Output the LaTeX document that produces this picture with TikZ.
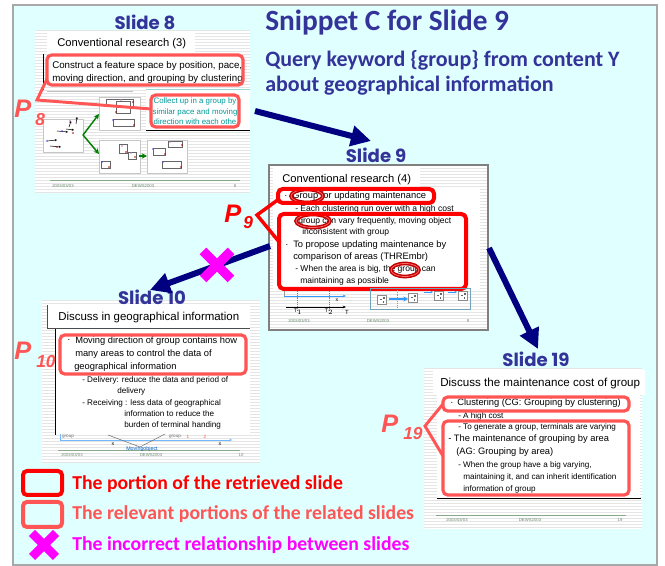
\documentclass[tikz,border=0pt]{standalone}
\usepackage{fontspec}
\setmainfont{Liberation Sans}
\newfontfamily\headfont{Carlito}
\newfontfamily\slidelabelfont{Poppins}
\usetikzlibrary{arrows.meta,calc}

\definecolor{panel}{HTML}{E0FFFF}
\definecolor{panelrule}{HTML}{A8A8A8}
\definecolor{navy}{HTML}{000080}
\definecolor{slateblue}{HTML}{333399}
\definecolor{hitred}{HTML}{FF0000}
\definecolor{relred}{HTML}{FF5555}
\definecolor{wrong}{HTML}{FF00FF}
\definecolor{tealtxt}{HTML}{009999}
\definecolor{footgreen}{HTML}{88AA88}
\definecolor{ringred}{HTML}{C00000}
\definecolor{flowblue}{HTML}{3399FF}

\newcommand\fsz[1]{\fontsize{#1}{#1}\selectfont}

% white slide thumbnail with fine horizontal ruling
\newcommand\linedpaper[4]{%
  \fill[white] (#1,#2) rectangle (#3,#4);
  \pgfmathtruncatemacro\nstripes{(#4-#2)/3}%
  \foreach \k in {0,...,\nstripes}{\draw[stripe] (#1,{#2+3*\k}) -- (#3,{#2+3*\k});}%
}

\tikzset{
  stripe/.style={draw=black!10, line width=0.6pt},
  txt/.style={inner sep=0pt, anchor=base west, text=black},
  hitbox/.style={draw=hitred, line width=3pt, rounded corners=3.5pt},
  relbox/.style={draw=relred, line width=2.4pt, rounded corners=3.5pt},
  hitlink/.style={draw=hitred, line width=2.6pt, line join=miter},
  rellink/.style={draw=relred, line width=2.2pt, line join=miter},
  ring/.style={draw=ringred, line width=1.1pt, double=hitred!60, double distance=0.6pt},
  link/.style={draw=navy, line width=4.5pt, -{Triangle[length=15pt,width=15pt]}},
  cross/.style={draw=wrong, line width=7pt},
  slidelabel/.style={font=\slidelabelfont\bfseries\fsz{13.6}, text=slateblue, inner sep=0pt},
  plabel/.style={font=\bfseries\itshape\fsz{19}, inner sep=0pt, anchor=base west},
  psub/.style={font=\bfseries\itshape\fsz{13}, inner sep=0pt, anchor=base west},
  foot/.style={font=\fsz{3.2}, text=footgreen!80!black, inner sep=0pt},
  minibox/.style={draw=black!22, fill=white, line width=0.6pt},
  cell/.style={draw=black!60, line width=0.45pt},
  growth/.style={draw=green!50!black, line width=1.1pt, -{Stealth[length=4pt,width=4pt]}},
  legend/.style={font=\headfont\bfseries\fsz{14.8}, inner sep=0pt, anchor=west},
}

\begin{document}
\begin{tikzpicture}[x=0.75pt,y=-0.75pt]
\useasboundingbox (0,0) rectangle (665,566);
\fill[white] (0,0) rectangle (665,566);
\draw[panelrule, line width=1.5pt, fill=panel] (13,5) rectangle (657,565);

% ---------------- header ----------------
\node[anchor=base west, inner sep=0pt, font=\headfont\bfseries\fsz{22}, text=slateblue] (head) at (265,31) {Snippet C for Slide 9};
\node[anchor=base west, inner sep=0pt, font=\headfont\bfseries\fsz{16.5}, text=slateblue] (query1) at (265,67) {Query keyword \{group\} from content Y};
\node[anchor=base west, inner sep=0pt, font=\headfont\bfseries\fsz{16.5}, text=slateblue] (query2) at (265,92) {about geographical information};

% ---------------- slide 8 ----------------
\linedpaper{35}{30}{250}{193}
\fill[white] (47,31) rectangle (195,54);
\node[txt, font=\fsz{8.4}] (s8title) at (57,47) {Conventional research (3)};
\draw[black, line width=0.7pt] (43,54) -- (43,90);
\draw[black!25, line width=0.6pt] (47,91) -- (133,91);
\fill[white] (47,55) rectangle (243,85);
\fill[white] (146,89) rectangle (250,130);
\draw[tealtxt!40, line width=0.6pt] (146,89) -- (250,89);
\draw[black, line width=0.7pt] (146,130) -- (250,130);
\node[txt, font=\fsz{7.3}] (s8l1) at (52,69) {Construct a feature space by position, pace,};
\node[txt, font=\fsz{7.3}] (s8l2) at (52,82) {moving direction, and grouping by clustering};
\draw[relbox] (47,55) rectangle (243,85);
\node[inner sep=0pt, font=\fsz{5.9}, text=tealtxt, anchor=base] (s8t1) at (195,104) {Collect up in a group by};
\node[inner sep=0pt, font=\fsz{5.9}, text=tealtxt, anchor=base] (s8t2) at (195,114.5) {similar pace and moving};
\node[inner sep=0pt, font=\fsz{5.9}, text=tealtxt, anchor=base] (s8t3) at (195,125) {direction with each othe};
\draw[relbox] (151,95) rectangle (239,127);
% clustering sketch
\draw[minibox] (43,119) rectangle (83,152);
\draw[minibox] (99,97) rectangle (140,130);
\draw[minibox] (99,140) rectangle (140,173);
\draw[minibox] (147,140) rectangle (187,173);
\foreach \a/\b in {{(47,141)/(57,140)},{(50,146)/(61,147)},{(57,131)/(68,132)},{(66,129)/(74,130)},{(76,124)/(77,117)},{(69,127)/(71,121)}}
  \draw[line width=0.4pt, -{Stealth[length=1.6pt,width=1.6pt]}] \a -- \b;
\fill[blue!70] (47,141) circle (0.9);
\fill[red!70!black] (57,147) circle (0.9);
\fill[red!70!black] (73,133) circle (0.9);
\fill[violet!60] (70,121) circle (0.9);
\fill[blue!70] (62,131) circle (0.9);
\draw[cell] (106,99) rectangle (133,106);
\draw[cell] (116,101) rectangle (130,113);
\draw[cell] (113,119) rectangle (134,126);
\draw[cell] (119,144) rectangle (127,153);
\draw[cell] (128,152) rectangle (136,159);
\draw[cell] (101,161) rectangle (110,168);
\draw[cell] (168,141) rectangle (182,147);
\draw[cell] (153,148) rectangle (165,155);
\draw[cell] (162,161) rectangle (181,168);
\foreach \p in {(133,102),(116,112),(134,125),(126,152),(135,157),(109,167),(182,145),(165,154),(181,167)}
  \fill[red!70!black] \p circle (0.9);
\foreach \p in {(113,120),(102,162),(153,149),(163,162)}
  \fill[blue!70] \p circle (0.9);
\foreach \p in {(121,100),(122,146),(131,153),(170,142)}
  \fill[violet!50] \p circle (0.8);
\coordinate (g0) at (83,135);
\coordinate (g1) at (99,114);
\coordinate (g2) at (99,154);
\coordinate (g3) at (139,156);
\coordinate (g4) at (147,156);
\draw[growth] (g0) -- (g1);
\draw[growth] (g0) -- (g2);
\draw[growth] (g3) -- (g4);
\draw[footgreen, line width=0.6pt] (50,180) -- (240,180);
\node[foot] (s8f1) at (63,186) {2003/03/03};
\node[foot] (s8f2) at (143,186) {DEWS2003};
\node[foot] (s8f3) at (235,186) {8};
\node[slidelabel] (lab8) at (145,22) {Slide 8};

% P8 pointer
\node[plabel, text=relred] (p8) at (14,118) {P};
\node[psub, text=relred] (p8s) at (35,126) {8};
\coordinate (p8v) at (37,100);
\coordinate (p8a) at (47,79);
\coordinate (p8b) at (151,109);
\draw[rellink] (p8a) -- (p8v) -- (p8b);

% ---------------- slide 9 ----------------
\linedpaper{269}{165}{488}{330}
\fill[white] (273,168) rectangle (420,188);
\node[txt, font=\fsz{8.4}] (s9title) at (282,183) {Conventional research (4)};
\fill[white] (273,188) rectangle (480,290);
\node[txt, font=\fsz{7}] (s9b1) at (284,198.5) {·};
\node[txt, font=\fsz{7}] (s9l1) at (292,198.5) {Group for updating maintenance};
\node[txt, font=\fsz{6.4}] (s9l2) at (295,211.5) {- Each clustering run over with a high cost};
\node[txt, font=\fsz{6.4}] (s9l3) at (298,223.5) {group can vary frequently, moving object};
\node[txt, font=\fsz{6.4}] (s9l4) at (302,234.5) {inconsistent with group};
\node[txt, font=\fsz{7}] (s9b2) at (285,247.5) {·};
\node[txt, font=\fsz{7}] (s9l5) at (293,247.5) {To propose updating maintenance by};
\node[txt, font=\fsz{7}] (s9l6) at (293,259.5) {comparison of areas (THREmbr)};
\node[txt, font=\fsz{6.4}] (s9l7) at (295,271.5) {- When the area is big, the group can};
\node[txt, font=\fsz{6.4}] (s9l8) at (300,284) {maintaining as possible};
\draw[ring] (307,196) ellipse (16 and 6.5);
\draw[ring] (313,221) ellipse (17 and 6.5);
\draw[ring] (405,270) ellipse (14 and 6.5);
\draw[hitbox] (278,189) rectangle (434,203);
\draw[hitbox] (279,214) rectangle (466,289);
% time axis sketch
\draw[densely dotted, black!50, line width=0.4pt] (297,291) -- (297,310);
\draw[densely dotted, black!50, line width=0.4pt] (329,291) -- (329,310);
\draw[black!40, line width=0.4pt] (284,291) -- (284,297);
\draw[flowblue, line width=0.5pt, -{Stealth[length=2.5pt,width=2pt]}] (284,296) -- (346,296);
\node[font=\fsz{4}, inner sep=0pt] (s9x) at (337,300) {x};
\draw[black, line width=0.5pt, -{Stealth[length=2.5pt,width=2pt]}] (286,307) -- (346,307);
\node[font=\fsz{4.5}, inner sep=0pt] (s9T) at (347,312) {T};
\node[font=\fsz{4}, inner sep=0pt] (s9T1) at (298,312) {T$_1$};
\node[font=\fsz{4}, inner sep=0pt] (s9T2) at (329,312) {T$_2$};
% area comparison sketch
\draw[cyan!40!gray, line width=0.5pt] (370,288) rectangle (470,309);
\draw[densely dotted, black!40, line width=0.4pt] (397,288) -- (397,309);
\foreach \cx/\cy in {382/300,413/298,439/296,463/296}{
  \draw[black!45, fill=white, line width=0.4pt] (\cx-4.5,\cy-4.5) rectangle (\cx+4.5,\cy+4.5);
  \fill[black!60] (\cx-2,\cy-1) rectangle (\cx-0.5,\cy+0.5);
  \fill[black!60] (\cx+1,\cy-2.5) rectangle (\cx+2.5,\cy-1);
  \fill[black!60] (\cx+0.5,\cy+1.5) rectangle (\cx+2,\cy+3);
}
\draw[flowblue, line width=1.6pt, -{Stealth[length=3.5pt,width=4pt]}] (389,299) -- (408,299);
\draw[flowblue, line width=0.5pt, -{Stealth[length=2pt,width=2pt]}] (424,292) -- (433,292);
\draw[flowblue, line width=0.5pt, -{Stealth[length=2pt,width=2pt]}] (448,292) -- (457,292);
\node[foot] (s9f1) at (299,321) {2003/03/03};
\node[foot] (s9f2) at (378,321) {DEWS2003};
\node[foot] (s9f3) at (468,321) {9};
\draw[gray, line width=1.6pt] (269,165) rectangle (488,330);
\node[slidelabel] (lab9) at (376,155) {Slide 9};

% P9 pointer
\node[plabel, text=hitred] (p9) at (224,223) {P};
\node[psub, text=hitred] (p9s) at (243,229) {9};
\coordinate (p9v) at (257,215);
\coordinate (p9a) at (279,199);
\coordinate (p9b) at (280,243);
\draw[hitlink] (p9a) -- (p9v) -- (p9b);

% ---------------- slide 10 ----------------
\linedpaper{42}{300}{260}{463}
\fill[white] (47,305) rectangle (250,328);
\draw[black!70, line width=0.6pt] (47.5,305) -- (47.5,328) -- (250,328);
\node[txt, font=\fsz{8.6}] (s10title) at (58,321) {Discuss in geographical information};
\fill[white] (55,329) rectangle (250,433);
\draw[black, line width=0.7pt] (55,329) -- (55,435);
\node[txt, font=\fsz{7}] (s10b1) at (67,343) {·};
\node[txt, font=\fsz{7}] (s10l1) at (75,344) {Moving direction of group contains how};
\node[txt, font=\fsz{7}] (s10l2) at (75,357) {many areas to control the data of};
\node[txt, font=\fsz{7}] (s10l3) at (74,370) {geographical information};
\node[txt, font=\fsz{6.1}] (s10l4) at (82,382.5) {- Delivery: reduce the data and period of};
\node[txt, font=\fsz{6.1}] (s10l5) at (117,394) {delivery};
\node[txt, font=\fsz{6.1}] (s10l6) at (82,405.5) {- Receiving : less data of geographical};
\node[txt, font=\fsz{6.1}] (s10l7) at (124,416.5) {information to reduce the};
\node[txt, font=\fsz{6.1}] (s10l8) at (124,427.5) {burden of terminal handing};
\draw[relbox] (60,335) rectangle (246,374);
% moving-object sketch
\draw[flowblue!70, line width=0.4pt] (60,434) -- (60,440);
\node[font=\fsz{3.5}, text=black!55, inner sep=0pt] (s10g1) at (68,437) {group};
\node[font=\fsz{3.5}, text=black!55, inner sep=0pt] (s10g2) at (175,437) {group};
\node[font=\fsz{3.5}, text=red!70, inner sep=0pt] (s10n1) at (188,437) {1};
\node[font=\fsz{3.5}, text=red!70, inner sep=0pt] (s10n2) at (205,437) {2};
\draw[flowblue!70, line width=0.5pt, -{Stealth[length=2pt,width=2pt]}] (60,440) -- (232,440);
\draw[black!55, line width=0.4pt] (108,435) -- (140,447) -- (165,434);
\node[font=\fsz{4}, inner sep=0pt] (s10x1) at (113,444) {x};
\node[font=\fsz{4}, inner sep=0pt] (s10x2) at (220,444) {x};
\draw[footgreen, line width=0.6pt] (58,450) -- (240,450);
\node[font=\fsz{4}, text=tealtxt!60!blue, inner sep=0pt] (s10mo) at (142,449) {Movingobject};
\node[foot] (s10f1) at (72,455) {2003/03/03};
\node[foot] (s10f2) at (151,455) {DEWS2003};
\node[foot] (s10f3) at (241,455) {10};
\node[slidelabel] (lab10) at (152,297) {Slide 10};

% P10 label
\node[plabel, text=relred] (p10) at (14,360) {P};
\node[psub, text=relred] (p10s) at (36,368) {10};

% ---------------- slide 19 ----------------
\linedpaper{424}{368}{642}{529}
\fill[white] (433,370) rectangle (645,395);
\node[txt, font=\fsz{8.7}] (s19title) at (440,387) {Discuss the maintenance cost of group};
\fill[white] (437,395) rectangle (640,498);
\draw[black, line width=0.7pt] (437,498) -- (641,498);
\node[txt, font=\fsz{7}] (s19b1) at (450,406) {·};
\node[txt, font=\fsz{7}] (s19l1) at (457,406) {Clustering (CG: Grouping by clustering)};
\node[txt, font=\fsz{6.1}] (s19l2) at (458,418.5) {- A high cost};
\node[txt, font=\fsz{6.1}] (s19l3) at (458,429.5) {- To generate a group, terminals are varying};
\node[txt, font=\fsz{7}] (s19l4) at (448,442) {- The maintenance of grouping by area};
\node[txt, font=\fsz{7}] (s19l5) at (456,455) {(AG: Grouping by area)};
\node[txt, font=\fsz{6.1}] (s19l6) at (458,467.5) {- When the group have a big varying,};
\node[txt, font=\fsz{6.1}] (s19l7) at (463,479.5) {maintaining it, and can inherit identification};
\node[txt, font=\fsz{6.1}] (s19l8) at (463,491.5) {information of group};
\draw[relbox] (443,397) rectangle (629,411);
\draw[relbox] (443,421) rectangle (629,495);
\draw[footgreen, line width=0.6pt] (436,515) -- (626,515);
\node[foot] (s19f1) at (457,520) {2003/03/03};
\node[foot] (s19f2) at (530,520) {DEWS2003};
\node[foot] (s19f3) at (620,520) {19};
\node[slidelabel] (lab19) at (536,359) {Slide 19};

% P19 pointer
\node[plabel, text=relred] (p19) at (381,433) {P};
\node[psub, text=relred] (p19s) at (403,440) {19};
\coordinate (p19v) at (425,426);
\coordinate (p19a) at (443,404);
\coordinate (p19b) at (443,456);
\draw[rellink] (p19a) -- (p19v) -- (p19b);

% ---------------- relations between slides ----------------
\coordinate (r8) at (255,111);
\coordinate (t9) at (371,141);
\coordinate (l9) at (270,246);
\coordinate (t10) at (150,290);
\coordinate (rr9) at (489,248);
\coordinate (t19) at (538,349);
\draw[link] (r8) -- (t9);
\draw[link] (l9) -- (t10);
\draw[link] (rr9) -- (t19);
\coordinate (bad) at (217,265);
\draw[cross] ($(bad)+(-14,-14)$) -- ($(bad)+(14,14)$);
\draw[cross] ($(bad)+(-14,14)$) -- ($(bad)+(14,-14)$);

% ---------------- legend ----------------
\draw[draw=hitred, line width=3pt, rounded corners=3pt] (23,471) rectangle (62,495);
\draw[draw=relred, line width=3pt, rounded corners=3pt] (23,502) rectangle (62,527);
\coordinate (lx) at (44,545);
\draw[cross, line width=6.5pt] ($(lx)+(-12,-12)$) -- ($(lx)+(12,12)$);
\draw[cross, line width=6.5pt] ($(lx)+(-12,12)$) -- ($(lx)+(12,-12)$);
\node[legend, text=hitred] (leg1) at (72,484) {The portion of the retrieved slide};
\node[legend, text=relred] (leg2) at (72,514) {The relevant portions of the related slides};
\node[legend, text=wrong] (leg3) at (72,545) {The incorrect relationship between slides};
\end{tikzpicture}
\end{document}
